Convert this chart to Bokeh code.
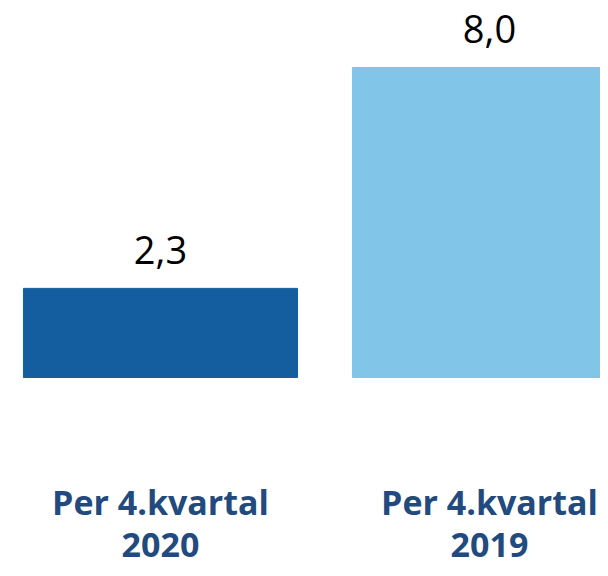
from bokeh.plotting import figure
from bokeh.models import ColumnDataSource
from bokeh.core.properties import value
from bokeh.embed import file_html
from bokeh.resources import INLINE

# Data
categories = ["Per 4.kvartal 2020", "Per 4.kvartal 2019"]
label_line1 = ["Per 4.kvartal", "Per 4.kvartal"]
label_line2 = ["2020", "2019"]
values = [2.3, 8.0]
value_labels = ["2,3", "8,0"]
bar_colors = ["#145EA0", "#81C5E8"]

xpos = list(range(len(categories)))
src = ColumnDataSource(dict(
    x=xpos, top=values, vlab=value_labels, color=bar_colors,
    l1=label_line1, l2=label_line2, zero=[0] * len(values),
))

p = figure(width=600, height=568, x_range=(-0.4863, 1.3374), y_range=(-4.929, 9.729),
           output_backend="svg", toolbar_location=None, min_border=0,
           background_fill_color="white", border_fill_color="white")
p.axis.visible = False
p.grid.visible = False
p.outline_line_color = None

p.vbar(x="x", top="top", bottom=0, width=0.833, color="color", source=src)

p.text(x="x", y="top", text="vlab", source=src, text_align="center",
       text_baseline="alphabetic", y_offset=-38, text_font=value("Open Sans"),
       text_font_size="38px", text_color="black")

p.text(x="x", y="zero", text="l1", source=src, text_align="center",
       text_baseline="alphabetic", y_offset=124, text_font=value("Open Sans"),
       text_font_style="bold", text_font_size="34px", text_color="#224A7E")
p.text(x="x", y="zero", text="l2", source=src, text_align="center",
       text_baseline="alphabetic", y_offset=167, text_font=value("Open Sans"),
       text_font_style="bold", text_font_size="34px", text_color="#224A7E")

open("out.html", "w").write(file_html(p, INLINE))
